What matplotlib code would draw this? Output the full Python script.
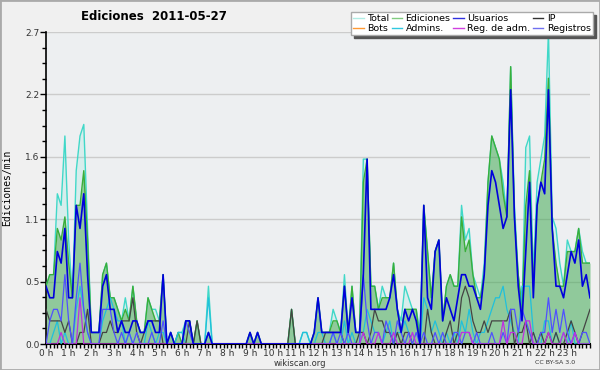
import numpy as np
import matplotlib.pyplot as plt
from matplotlib.patches import Rectangle
from matplotlib.ticker import MultipleLocator, FixedLocator

# edits per 10-minute bin, 2011-05-27 (12 bins per row = 2 hours)
total = [5, 6, 6, 13, 12, 18, 9, 4, 15, 18, 19, 10,
         1, 1, 1, 6, 7, 4, 4, 3, 2, 4, 2, 5,
         2, 1, 1, 4, 3, 3, 2, 6, 0, 1, 0, 1,
         1, 2, 2, 0, 2, 0, 0, 5, 0, 0, 0, 0,
         0, 0, 0, 0, 0, 0, 1, 0, 1, 0, 0, 0,
         0, 0, 0, 0, 0, 3, 0, 0, 1, 1, 0, 1,
         4, 1, 1, 1, 3, 2, 1, 6, 1, 5, 1, 1,
         16, 16, 5, 5, 3, 5, 4, 4, 7, 3, 2, 5,
         4, 3, 3, 1, 12, 8, 4, 8, 9, 2, 5, 6,
         5, 5, 12, 9, 10, 6, 5, 4, 7, 14, 18, 17,
         16, 14, 11, 24, 12, 6, 3, 17, 18, 6, 14, 16,
         18, 27, 11, 10, 7, 5, 9, 8, 8, 10, 8, 7,
         7]
ediciones = [5, 6, 6, 10, 9, 11, 7, 4, 12, 12, 15, 9,
             1, 1, 1, 6, 7, 4, 4, 3, 2, 3, 2, 5,
             2, 1, 1, 4, 3, 2, 2, 6, 0, 1, 0, 1,
             0, 2, 2, 0, 2, 0, 0, 1, 0, 0, 0, 0,
             0, 0, 0, 0, 0, 0, 1, 0, 1, 0, 0, 0,
             0, 0, 0, 0, 0, 3, 0, 0, 0, 0, 0, 1,
             4, 1, 1, 1, 2, 2, 1, 5, 1, 5, 1, 1,
             14, 16, 5, 5, 3, 4, 4, 4, 7, 3, 1, 3,
             3, 3, 3, 0, 12, 8, 4, 8, 9, 2, 5, 6,
             5, 5, 11, 8, 9, 6, 4, 4, 6, 14, 18, 17,
             16, 13, 11, 24, 11, 6, 3, 12, 15, 5, 12, 14,
             16, 23, 10, 7, 5, 5, 8, 8, 8, 10, 7, 7,
             7]
usuarios = [5, 4, 4, 8, 7, 10, 4, 4, 12, 10, 13, 6,
            1, 1, 1, 5, 6, 3, 3, 1, 2, 1, 1, 2,
            2, 1, 1, 2, 2, 1, 1, 6, 0, 1, 0, 0,
            0, 2, 2, 0, 0, 0, 0, 1, 0, 0, 0, 0,
            0, 0, 0, 0, 0, 0, 1, 0, 1, 0, 0, 0,
            0, 0, 0, 0, 0, 0, 0, 0, 0, 0, 0, 1,
            4, 1, 1, 1, 1, 1, 1, 5, 1, 4, 1, 1,
            6, 16, 3, 3, 3, 3, 3, 4, 6, 3, 1, 3,
            2, 3, 2, 0, 12, 4, 3, 8, 9, 2, 4, 3,
            2, 4, 6, 6, 5, 5, 4, 3, 6, 12, 15, 14,
            12, 10, 11, 22, 11, 5, 2, 8, 14, 4, 12, 14,
            13, 22, 10, 5, 5, 4, 6, 8, 7, 9, 5, 6,
            4]
ip = [3, 2, 2, 2, 2, 1, 2, 0, 0, 1, 1, 3,
      0, 0, 0, 1, 1, 2, 1, 1, 2, 2, 2, 4,
      1, 0, 1, 2, 2, 2, 2, 0, 0, 0, 0, 0,
      0, 0, 2, 0, 2, 0, 0, 0, 0, 0, 0, 0,
      0, 0, 0, 0, 0, 0, 0, 0, 0, 0, 0, 0,
      0, 0, 0, 0, 0, 3, 0, 0, 0, 0, 0, 0,
      0, 0, 1, 1, 1, 1, 1, 0, 0, 0, 0, 1,
      1, 0, 1, 3, 2, 2, 1, 1, 0, 1, 0, 1,
      1, 0, 0, 0, 0, 3, 1, 0, 0, 0, 1, 2,
      0, 1, 4, 5, 4, 2, 1, 1, 2, 1, 2, 2,
      2, 2, 2, 3, 0, 1, 1, 2, 0, 1, 0, 1,
      0, 1, 0, 1, 0, 0, 1, 2, 1, 0, 1, 2,
      3]
bots = [0] * 145
admins = [0, 0, 1, 2, 0, 1, 0, 0, 3, 5, 3, 1,
          0, 0, 0, 2, 3, 4, 3, 2, 2, 0, 1, 0,
          0, 0, 0, 2, 1, 0, 1, 1, 0, 0, 0, 1,
          1, 0, 0, 0, 0, 0, 0, 4, 0, 0, 0, 0,
          0, 0, 0, 0, 0, 0, 0, 0, 0, 0, 0, 0,
          0, 0, 0, 0, 0, 0, 0, 0, 1, 1, 0, 0,
          1, 1, 0, 0, 1, 0, 0, 2, 0, 1, 0, 0,
          1, 3, 2, 1, 1, 0, 1, 2, 0, 1, 1, 2,
          1, 0, 0, 0, 4, 3, 1, 2, 1, 0, 1, 0,
          1, 0, 2, 1, 3, 1, 0, 1, 1, 2, 3, 4,
          4, 5, 3, 2, 1, 0, 5, 5, 5, 1, 0, 0,
          2, 2, 0, 1, 0, 1, 0, 2, 0, 0, 0, 0,
          0]
reg_adm = [0, 0, 0, 0, 1, 0, 0, 0, 0, 4, 0, 0,
           0, 0, 0, 0, 0, 0, 0, 0, 0, 0, 0, 0,
           0, 0, 0, 0, 0, 0, 0, 0, 0, 0, 0, 0,
           0, 0, 0, 0, 0, 0, 0, 0, 0, 0, 0, 0,
           0, 0, 0, 0, 0, 0, 0, 0, 0, 0, 0, 0,
           0, 0, 0, 0, 0, 0, 0, 0, 0, 0, 0, 0,
           0, 0, 0, 0, 0, 0, 0, 0, 0, 0, 0, 0,
           1, 0, 0, 0, 1, 0, 0, 0, 1, 0, 0, 0,
           0, 1, 0, 0, 0, 0, 0, 0, 0, 0, 0, 0,
           0, 0, 1, 1, 1, 0, 0, 0, 0, 0, 0, 0,
           0, 2, 0, 1, 1, 0, 0, 2, 2, 0, 0, 0,
           0, 1, 0, 0, 0, 1, 0, 0, 1, 0, 0, 0,
           0]
registros = [0, 2, 3, 3, 2, 6, 2, 0, 4, 7, 3, 1,
             0, 0, 0, 3, 3, 3, 1, 0, 1, 0, 1, 0,
             1, 0, 0, 0, 1, 0, 0, 2, 0, 0, 0, 0,
             0, 2, 1, 0, 0, 0, 0, 0, 0, 0, 0, 0,
             0, 0, 0, 0, 0, 0, 0, 0, 0, 0, 0, 0,
             0, 0, 0, 0, 0, 0, 0, 0, 0, 0, 0, 0,
             0, 0, 0, 0, 1, 0, 1, 0, 1, 0, 0, 0,
             6, 2, 0, 1, 1, 0, 2, 1, 0, 2, 1, 0,
             1, 0, 1, 0, 1, 0, 0, 1, 0, 1, 0, 0,
             1, 1, 0, 1, 1, 0, 1, 0, 0, 0, 1, 0,
             0, 1, 0, 3, 3, 1, 3, 2, 1, 0, 0, 1,
             1, 4, 1, 3, 1, 3, 1, 0, 1, 0, 1, 1,
             0]

hour_labels = ['%d h' % h for h in range(24)]

# 10-minute bins -> hours, counts -> edits per minute
hours = np.arange(len(total)) / 6.0
def per_min(v):
    return np.array(v) / 10.0

BG = '#f0f0f0'
fig = plt.figure(figsize=(6, 3.7), dpi=100, facecolor=BG)
ax = fig.add_axes([46 / 600, 26 / 370, 544 / 600, 312 / 370])
ax.set_facecolor('#edeff1')

ax.fill_between(hours, per_min(total), color='#40e0d0', alpha=0.12, lw=0, zorder=1)
ax.fill_between(hours, per_min(ediciones), color='#3a9f3a', alpha=0.45, lw=0, zorder=2)

ax.plot(hours, per_min(total), color='#40d8c8', lw=1.0, zorder=3)
ax.plot(hours, per_min(ediciones), color='#3aae3a', lw=1.0, zorder=4)
ax.plot(hours, per_min(bots), color='#ff9933', lw=0.8, zorder=4)
ax.plot(hours, per_min(admins), color='#20c0dc', lw=0.9, zorder=5)
ax.plot(hours, per_min(ip), color='#444444', lw=0.9, zorder=5)
ax.plot(hours, per_min(registros), color='#5050ff', lw=0.9, zorder=5)
ax.plot(hours, per_min(reg_adm), color='#c030e0', lw=0.9, zorder=5)
ax.plot(hours, per_min(usuarios), color='#0000dd', lw=1.2, zorder=6)

ymax = 2.7
ax.set_xlim(0, 24)
ax.set_ylim(0, ymax)
yt = np.linspace(0, ymax, 6)
ax.yaxis.set_major_locator(FixedLocator(yt))
ax.set_yticklabels(['%.1f' % v for v in yt])
ax.yaxis.set_minor_locator(MultipleLocator(ymax / 20))
ax.set_xticks(range(24))
ax.set_xticklabels(hour_labels)
ax.xaxis.set_minor_locator(MultipleLocator(1 / 6))
ax.tick_params(axis='both', which='both', direction='out', length=3, width=1,
               labelsize=6.5, labelcolor='#333333', pad=0.5)
ax.tick_params(axis='y', which='major', length=4)
ax.grid(axis='y', which='major', color='#cccccc', lw=1)
ax.set_axisbelow(True)
for s in ['top', 'right']:
    ax.spines[s].set_visible(False)
ax.spines['left'].set_linewidth(1.2)
ax.spines['bottom'].set_linewidth(1.5)

ax.set_ylabel('Ediciones/min', family='DejaVu Sans Mono', fontsize=7)
ax.yaxis.set_label_coords(-0.063, 0.5)

# legend: two rows, filled column by column
names = ['Total', 'Bots', 'Ediciones', 'Admins.', 'Usuarios', 'Reg. de adm.', 'IP', 'Registros']
cols = ['#b0ece4', '#ff9933', '#80cc80', '#30c8e0', '#3030e0', '#d040e0', '#333333', '#7070f0']
handles = [plt.Line2D([], [], color=c, lw=1) for c in cols]
leg = fig.legend(handles, names, ncol=4, loc='upper right',
                 bbox_to_anchor=(593 / 600, 1 - 12 / 370), fontsize=6.8,
                 frameon=True, fancybox=False, edgecolor='#aaaaaa', facecolor='white',
                 framealpha=1, shadow={'color': '#555555', 'alpha': 1},
                 handlelength=1.1, handletextpad=0.35, columnspacing=0.3,
                 borderpad=0.25, labelspacing=0.05, borderaxespad=0)
leg.set_zorder(10)

fig.text(154 / 600, 1 - 16 / 370, 'Ediciones  2011-05-27', ha='center', va='center',
         fontsize=8.5, fontweight='bold')
fig.text(300 / 600, 1 - 363 / 370, 'wikiscan.org', ha='center', va='center',
         fontsize=6, color='#333333')
fig.text(555 / 600, 1 - 363 / 370, 'CC BY-SA 3.0', ha='center', va='center',
         fontsize=4.5, color='#333333')

fig.patches.append(Rectangle((0, 0), 1, 1, transform=fig.transFigure, fill=False,
                             edgecolor='#aaaaaa', lw=2))

fig.savefig('out.png', dpi=100, facecolor=BG)
